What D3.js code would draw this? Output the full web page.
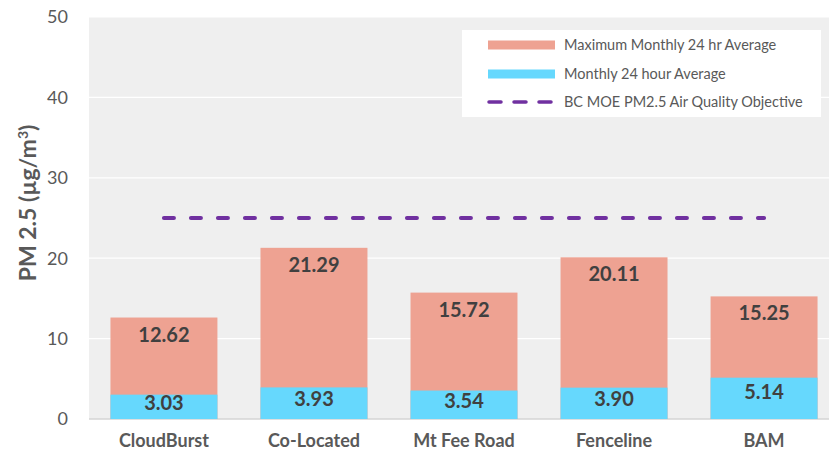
<!DOCTYPE html>
<html>
<head>
<meta charset="utf-8">
<script src="https://cdn.jsdelivr.net/npm/d3@7"></script>
<style>
  body { margin: 0; background: #fff; }
  svg { display: block; font-family: Lato, "Open Sans", sans-serif; }
</style>
</head>
<body>
<svg id="chart" width="829" height="460"></svg>
<script>
// data
var sites = ["CloudBurst", "Co-Located", "Mt Fee Road", "Fenceline", "BAM"];
var maxAvg = [12.62, 21.29, 15.72, 20.11, 15.25];
var monthlyAvg = [3.03, 3.93, 3.54, 3.90, 5.14];
var objective = 25;
var yTicks = [0, 10, 20, 30, 40, 50];
var legendNames = ["Maximum Monthly 24 hr Average", "Monthly 24 hour Average", "BC MOE PM2.5 Air Quality Objective"];

var salmon = "#eea292", cyan = "#66d8fd", purple = "#7030a0";

var svg = d3.select("#chart");
// note: "top" is taken by window.top, so use other names
var plotLeft = 89, plotRight = 839, plotTop = 17, plotBottom = 419;

var x = d3.scaleBand().domain(sites).range([plotLeft, plotRight]).paddingInner(0.287).paddingOuter(0.143);
var y = d3.scaleLinear().domain([0, 50]).range([plotBottom, plotTop]);

// plot background
svg.append("rect")
  .attr("x", plotLeft).attr("y", y(50))
  .attr("width", 829 - plotLeft).attr("height", y(0) - y(50))
  .attr("fill", "#efefef");

// gridlines
svg.selectAll(".grid").data(yTicks.filter(function(d){ return d > 0; }))
  .enter().append("line")
  .attr("x1", plotLeft).attr("x2", 829)
  .attr("y1", function(d){ return y(d); }).attr("y2", function(d){ return y(d); })
  .attr("stroke", "#fff").attr("stroke-width", 1.2);

// axis line at 0
svg.append("line")
  .attr("x1", plotLeft).attr("x2", 829)
  .attr("y1", y(0)).attr("y2", y(0))
  .attr("stroke", "#d4d4d4").attr("stroke-width", 1.5);

// y tick labels
svg.selectAll(".ytick").data(yTicks).enter().append("text")
  .attr("x", 68).attr("y", function(d){ return y(d); })
  .attr("dy", "0.35em")
  .attr("text-anchor", "end")
  .attr("font-size", 18)
  .attr("fill", "#595959")
  .text(function(d){ return d; });

// y title
svg.append("text")
  .attr("transform", "translate(36," + 203 + ") rotate(-90)")
  .attr("text-anchor", "middle")
  .attr("font-size", 23)
  .attr("font-weight", "bold")
  .attr("fill", "#595959")
  .html("PM 2.5 (\u00b5g/m<tspan baseline-shift='super' font-size='14'>3</tspan>)");

// bars - max behind, monthly avg in front
var idx = d3.range(sites.length);
svg.selectAll(".maxbar").data(idx).enter().append("rect")
  .attr("x", function(i){ return x(sites[i]); })
  .attr("y", function(i){ return y(maxAvg[i]); })
  .attr("width", x.bandwidth())
  .attr("height", function(i){ return y(0) - y(maxAvg[i]); })
  .attr("fill", salmon);

svg.selectAll(".avgbar").data(idx).enter().append("rect")
  .attr("x", function(i){ return x(sites[i]); })
  .attr("y", function(i){ return y(monthlyAvg[i]); })
  .attr("width", x.bandwidth())
  .attr("height", function(i){ return y(0) - y(monthlyAvg[i]); })
  .attr("fill", cyan);

// value labels
svg.selectAll(".maxlab").data(idx).enter().append("text")
  .attr("x", function(i){ return x(sites[i]) + x.bandwidth() / 2; })
  .attr("y", function(i){ return y(maxAvg[i]) + 17; })
  .attr("dy", "0.35em")
  .attr("text-anchor", "middle")
  .attr("font-size", 20).attr("font-weight", "bold")
  .attr("fill", "#404040")
  .text(function(i){ return maxAvg[i].toFixed(2); });

svg.selectAll(".avglab").data(idx).enter().append("text")
  .attr("x", function(i){ return x(sites[i]) + x.bandwidth() / 2; })
  .attr("y", function(i){
    var h = y(0) - y(monthlyAvg[i]);
    return y(monthlyAvg[i]) + Math.min(14, h / 2 - 4);
  })
  .attr("dy", "0.35em")
  .attr("text-anchor", "middle")
  .attr("font-size", 20).attr("font-weight", "bold")
  .attr("fill", "#404040")
  .text(function(i){ return monthlyAvg[i].toFixed(2); });

// objective line
svg.append("line")
  .attr("x1", x(sites[0]) + x.bandwidth() / 2)
  .attr("x2", x(sites[sites.length - 1]) + x.bandwidth() / 2)
  .attr("y1", y(objective)).attr("y2", y(objective))
  .attr("stroke", purple).attr("stroke-width", 4)
  .attr("stroke-linecap", "round")
  .attr("stroke-dasharray", "10 17");

// category labels
svg.selectAll(".xlab").data(sites).enter().append("text")
  .attr("x", function(d){ return x(d) + x.bandwidth() / 2; })
  .attr("y", 447)
  .attr("text-anchor", "middle")
  .attr("font-size", 18).attr("font-weight", "bold")
  .attr("fill", "#595959")
  .text(function(d){ return d; });

// legend
var lg = svg.append("g");
lg.append("rect").attr("x", 462).attr("y", 30).attr("width", 359).attr("height", 87).attr("fill", "#fff");
var rowsY = [45, 74, 102];
lg.append("rect").attr("x", 488).attr("y", rowsY[0] - 4.5).attr("width", 67).attr("height", 9).attr("fill", salmon);
lg.append("rect").attr("x", 488).attr("y", rowsY[1] - 4.5).attr("width", 67).attr("height", 9).attr("fill", cyan);
lg.append("line").attr("x1", 489).attr("x2", 555).attr("y1", rowsY[2]).attr("y2", rowsY[2])
  .attr("stroke", purple).attr("stroke-width", 3.5)
  .attr("stroke-linecap", "round").attr("stroke-dasharray", "12 13");
lg.selectAll(".ltext").data(legendNames).enter().append("text")
  .attr("x", 564).attr("y", function(d, i){ return rowsY[i]; })
  .attr("dy", "0.35em")
  .attr("font-size", 14.5)
  .attr("fill", "#595959")
  .text(function(d){ return d; });
</script>
</body>
</html>
